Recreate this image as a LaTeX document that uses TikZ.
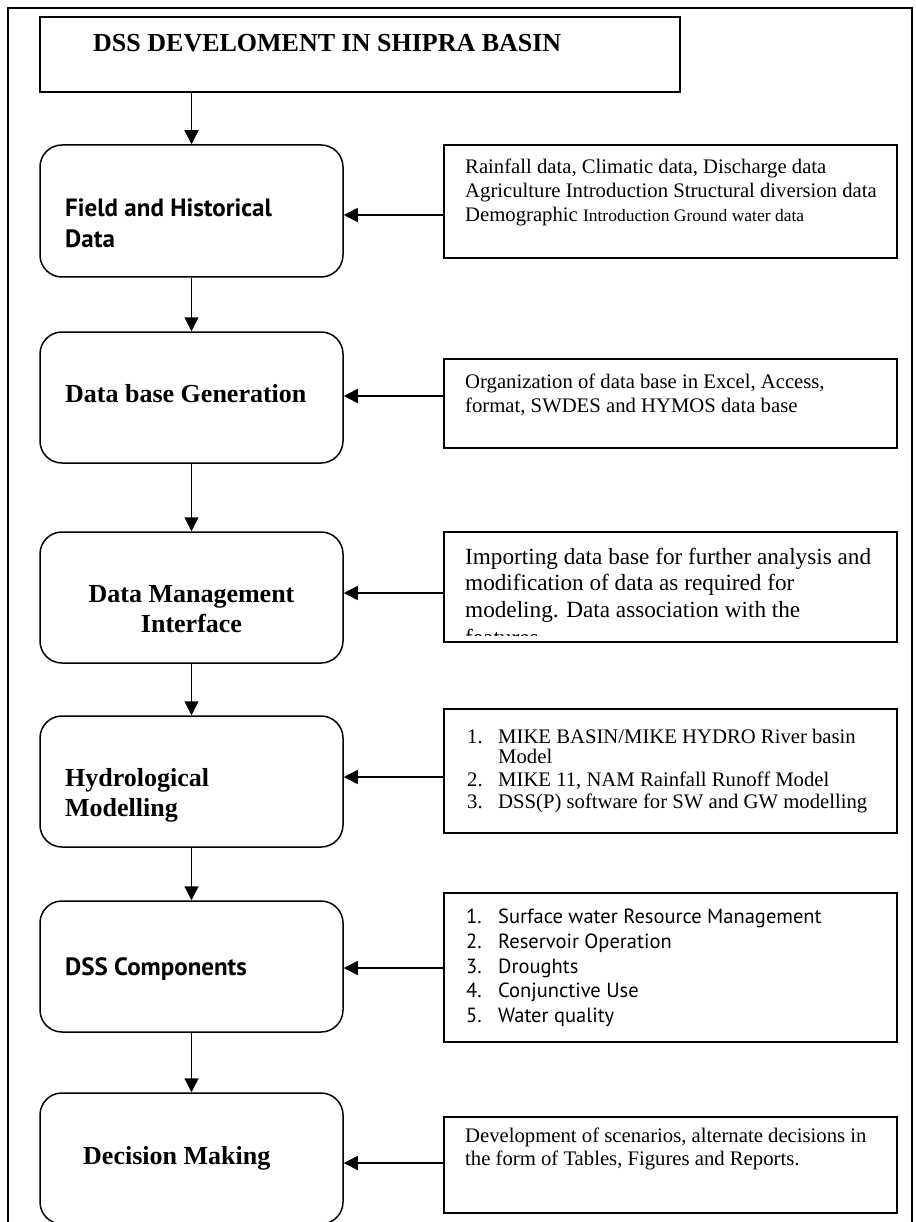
\documentclass[tikz,border=0pt]{standalone}
\usepackage{fontspec}
\setmainfont{Liberation Serif}
\newfontfamily\gillfont{PT Sans}
\usetikzlibrary{arrows.meta}
\newcommand\fbig{\fontsize{26}{30}\selectfont\bfseries}
\newcommand\fsansbig{\gillfont\fontsize{25}{28}\selectfont\bfseries}
\newcommand\fbody{\fontsize{20.7}{24}\selectfont}
\newcommand\fsmall{\fontsize{17.5}{20}\selectfont}
\newcommand\fmid{\fontsize{23.2}{26}\selectfont}
\newcommand\flist{\fontsize{20.7}{24}\selectfont}
\newcommand\fsanslist{\gillfont\fontsize{20.5}{24}\selectfont}
\begin{document}
\begin{tikzpicture}[x=1pt,y=-1pt,
  arr/.style={-{Triangle[length=14pt,width=14pt]}, line width=1.5pt},
  lbox/.style={draw, line width=1.5pt, rounded corners=22pt, minimum width=303pt, minimum height=131pt, inner sep=0pt},
  rbox/.style={draw, line width=2pt, minimum width=453pt, inner sep=0pt},
  tbox/.style={draw, line width=1.5pt, inner sep=0pt},
  txt/.style={anchor=base west, inner sep=0pt},
  ctxt/.style={anchor=base, inner sep=0pt}]
\useasboundingbox (0,0) rectangle (915,1222);
\clip (0,0) rectangle (915,1222);
% outer frame
\draw[line width=1.5pt] (8,8) rectangle (912,1260);
% title
\node[tbox, minimum width=640pt, minimum height=75pt] (title) at (360,54.5) {};
\node[txt] (ttitle) at (93,52) {\fbig DSS DEVELOMENT IN SHIPRA BASIN};
% left boxes
\node[lbox, minimum height=132pt] (l1) at (191.5,211) {};
\node[lbox] (l2) at (191.5,397.5) {};
\node[lbox] (l3) at (191.5,597.5) {};
\node[lbox] (l4) at (191.5,781.5) {};
\node[lbox] (l5) at (191.5,966.5) {};
\node[lbox] (l6) at (191.5,1158.5) {};
\node[txt] (t1a) at (65,217) {\fsansbig Field and Historical};
\node[txt] (t1b) at (65,248) {\fsansbig Data};
\node[txt] (t2) at (65,402) {\fbig Data base Generation};
\node[ctxt] (t3a) at (191.5,602) {\fbig Data Management};
\node[ctxt] (t3b) at (191.5,632) {\fbig Interface};
\node[txt] (t4a) at (65,786) {\fbig Hydrological};
\node[txt] (t4b) at (65,816) {\fbig Modelling};
\node[txt] (t5) at (65,975) {\fsansbig DSS Components};
\node[txt] (t6) at (83,1164) {\fbig Decision Making};
% right boxes
\node[rbox, minimum height=113pt] (r1) at (670.5,201.5) {};
\node[rbox, minimum height=89pt] (r2) at (670.5,403.5) {};
\node[rbox, minimum height=110pt] (r3) at (670.5,587) {};
\node[rbox, minimum height=124pt] (r4) at (670.5,771) {};
\node[rbox, minimum height=149pt] (r5) at (670.5,967.5) {};
\node[rbox, minimum height=96pt] (r6) at (670.5,1165) {};
% right texts
\node[txt] (s1a) at (465,174) {\fbody Rainfall data, Climatic data, Discharge data};
\node[txt] (s1b) at (465,198) {\fbody Agriculture Introduction Structural diversion data};
\node[txt] (s1c) at (465,222) {\fbody Demographic {\fsmall Introduction Ground water data}};
\node[txt] (s2a) at (465,388) {\fbody Organization of data base in Excel, Access,};
\node[txt] (s2b) at (465,412) {\fbody format, SWDES and HYMOS data base};
\node[txt] (s3a) at (465,564) {\fmid Importing data base for further analysis and};
\node[txt] (s3b) at (465,590) {\fmid modification of data as required for};
\node[txt] (s3c) at (465,617) {\fmid modeling. Data association with the};
\begin{scope}
\clip (r3.south west) ++(0,-8) rectangle (r3.north east);
\node[txt] (s3d) at (465,645) {\fmid features};
\end{scope}
\node[txt] (n4a) at (467,743) {\flist 1.};
\node[txt] (s4a) at (498,743) {\flist MIKE BASIN/MIKE HYDRO River basin};
\node[txt] (s4b) at (498,763) {\flist Model};
\node[txt] (n4c) at (467,786) {\flist 2.};
\node[txt] (s4c) at (498,786) {\flist MIKE 11, NAM Rainfall Runoff Model};
\node[txt] (n4d) at (467,808) {\flist 3.};
\node[txt] (s4d) at (498,808) {\flist DSS(P) software for SW and GW modelling};
\node[txt] (n5a) at (466,923) {\fsanslist 1.};
\node[txt] (s5a) at (498,923) {\fsanslist Surface water Resource Management};
\node[txt] (n5b) at (466,948) {\fsanslist 2.};
\node[txt] (s5b) at (498,948) {\fsanslist Reservoir Operation};
\node[txt] (n5c) at (466,973) {\fsanslist 3.};
\node[txt] (s5c) at (498,973) {\fsanslist Droughts};
\node[txt] (n5d) at (466,997) {\fsanslist 4.};
\node[txt] (s5d) at (498,997) {\fsanslist Conjunctive Use};
\node[txt] (n5e) at (466,1022) {\fsanslist 5.};
\node[txt] (s5e) at (498,1022) {\fsanslist Water quality};
\node[txt] (s6a) at (465,1142) {\flist Development of scenarios, alternate decisions in};
\node[txt] (s6b) at (465,1165) {\flist the form of Tables, Figures and Reports.};
% vertical arrows
\draw[arr] (title.south -| l1.north) -- (l1.north);
\draw[arr] (l1.south) -- (l2.north);
\draw[arr] (l2.south) -- (l3.north);
\draw[arr] (l3.south) -- (l4.north);
\draw[arr] (l4.south) -- (l5.north);
\draw[arr] (l5.south) -- (l6.north);
% horizontal arrows
\coordinate (a1) at (444,215);
\coordinate (a2) at (444,396);
\coordinate (a3) at (444,593);
\coordinate (a4) at (444,777);
\coordinate (a5) at (444,968);
\coordinate (a6) at (444,1163);
\draw[arr] (a1) -- (a1 -| l1.east);
\draw[arr] (a2) -- (a2 -| l2.east);
\draw[arr] (a3) -- (a3 -| l3.east);
\draw[arr] (a4) -- (a4 -| l4.east);
\draw[arr] (a5) -- (a5 -| l5.east);
\draw[arr] (a6) -- (a6 -| l6.east);
\end{tikzpicture}
\end{document}
